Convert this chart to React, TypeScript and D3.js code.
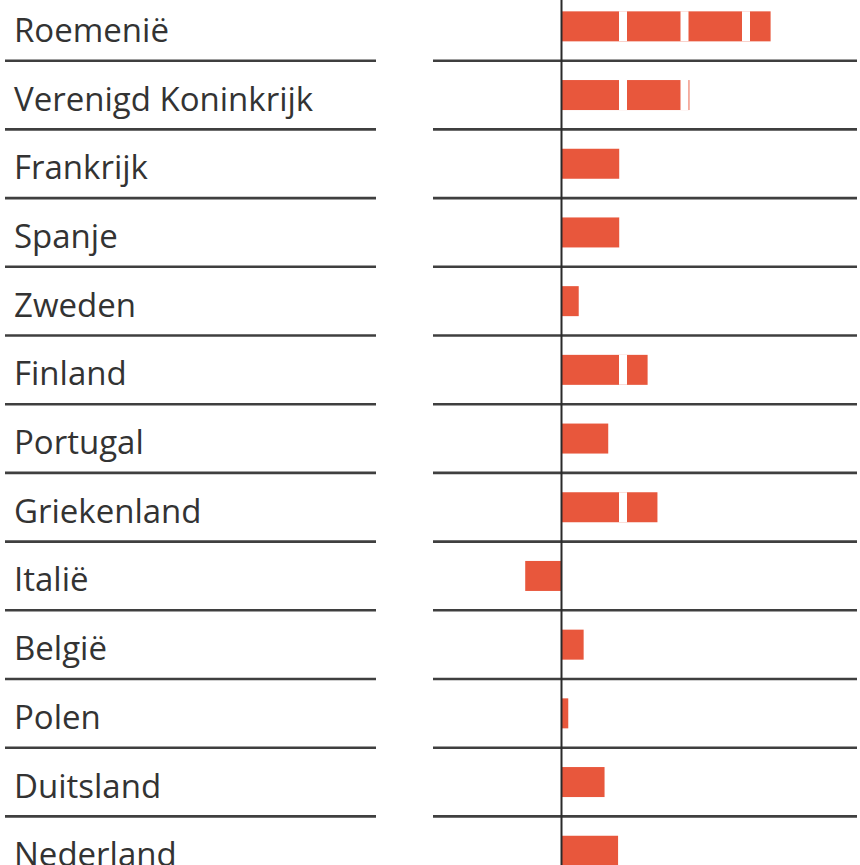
import React from "react";
import * as d3 from "d3";

const countries = [
  "Roemenië",
  "Verenigd Koninkrijk",
  "Frankrijk",
  "Spanje",
  "Zweden",
  "Finland",
  "Portugal",
  "Griekenland",
  "Italië",
  "België",
  "Polen",
  "Duitsland",
  "Nederland",
];

const values = [3.4, 2.08, 0.94, 0.94, 0.28, 1.4, 0.76, 1.56, -0.59, 0.36, 0.11, 0.7, 0.92];

const gridTicks = [1, 2, 3, 4];

const W = 860;
const H = 865;

export default function App() {
  const x = d3.scaleLinear().domain([0, 1]).range([561.5, 623]);
  const y = d3
    .scaleBand<string>()
    .domain(countries)
    .range([-8, -8 + 68.7 * countries.length])
    .paddingInner(0)
    .paddingOuter(0);
  const step = y.step();
  const barH = 30;
  const barColor = "#e8573c";
  const lineColor = "#3f3f3f";

  return (
    <div style={{ position: "absolute", left: 0, top: 0 }}>
      <svg width={W} height={H} style={{ display: "block", background: "#fff" }}>
        <defs>
          <clipPath id="barsClip">
            {countries.map((c, i) => {
              const v = values[i];
              const cy = (y(c) as number) + step / 2;
              return (
                <rect
                  key={c}
                  x={Math.min(x(0), x(v))}
                  y={cy - barH / 2}
                  width={Math.abs(x(v) - x(0))}
                  height={barH}
                />
              );
            })}
          </clipPath>
        </defs>
        {countries.map((c, i) => {
          const v = values[i];
          const cy = (y(c) as number) + step / 2;
          return (
            <g key={c}>
              <rect
                x={Math.min(x(0), x(v))}
                y={cy - barH / 2}
                width={Math.abs(x(v) - x(0))}
                height={barH}
                fill={barColor}
              />
              <text
                x={14}
                y={cy + 15.5}
                fontFamily="'Open Sans', sans-serif"
                fontSize={33}
                fill="#333"
              >
                {c}
              </text>
            </g>
          );
        })}
        <g clipPath="url(#barsClip)">
          {gridTicks.map((t) => (
            <line
              key={t}
              x1={x(t)}
              x2={x(t)}
              y1={0}
              y2={H}
              stroke="#fff"
              strokeWidth={8}
            />
          ))}
        </g>
        {countries.slice(0, -1).map((c) => {
          const sy = (y(c) as number) + step;
          return (
            <g key={"sep" + c}>
              <line x1={5} x2={376} y1={sy} y2={sy} stroke={lineColor} strokeWidth={2.6} />
              <line x1={433} x2={857} y1={sy} y2={sy} stroke={lineColor} strokeWidth={2.6} />
            </g>
          );
        })}
        <line x1={x(0)} x2={x(0)} y1={0} y2={H} stroke="#2a2a2a" strokeWidth={2} />
      </svg>
    </div>
  );
}
